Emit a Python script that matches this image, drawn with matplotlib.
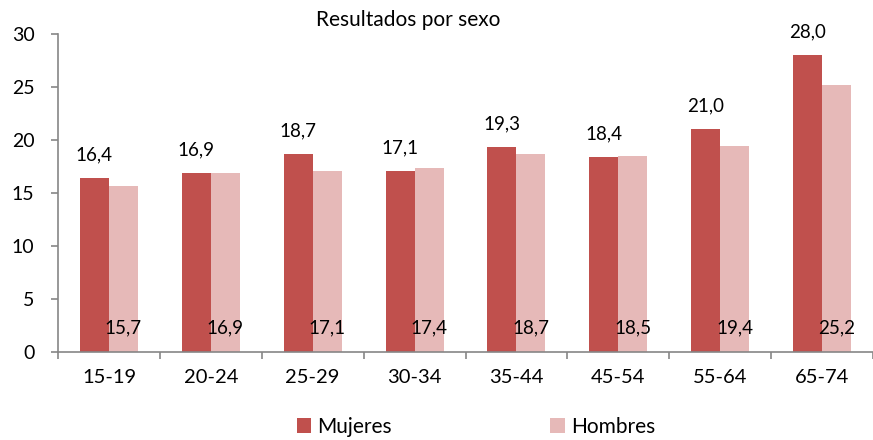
import matplotlib.pyplot as plt
import numpy as np

plt.rcParams['font.family'] = ['Lato', 'DejaVu Sans']

grupos = ['15-19', '20-24', '25-29', '30-34', '35-44', '45-54', '55-64', '65-74']
mujeres = [16.4, 16.9, 18.7, 17.1, 19.3, 18.4, 21.0, 28.0]
hombres = [15.7, 16.9, 17.1, 17.4, 18.7, 18.5, 19.4, 25.2]

color_m = '#C0504D'
color_h = '#E6B9B8'
gris = '#868686'

fig = plt.figure(figsize=(8.73, 4.4), dpi=100)
ax = fig.add_axes([58 / 873, 1 - 352 / 440, 815 / 873, 318 / 440])

x = np.arange(len(grupos))
ancho = 0.285
ax.bar(x - ancho / 2, mujeres, ancho, color=color_m, label='Mujeres')
ax.bar(x + ancho / 2, hombres, ancho, color=color_h, label='Hombres')

# etiquetas
for xi, v in zip(x, mujeres):
    ax.text(xi - ancho / 2, v + 2.2, f'{v:.1f}'.replace('.', ','),
            ha='center', va='center', fontsize=13.5)
for xi, v in zip(x, hombres):
    ax.text(xi + ancho / 2, 2.25, f'{v:.1f}'.replace('.', ','),
            ha='center', va='center', fontsize=13.5)

ax.set_xlim(-0.5, 7.42)
ax.set_ylim(0, 30)
ax.set_yticks(range(0, 31, 5))
ax.set_xticks(x)
ax.set_xticklabels(grupos)
ax.set_xticks(np.arange(-0.5, 8, 1), minor=True)

for s in ['top', 'right']:
    ax.spines[s].set_visible(False)
for s in ['left', 'bottom']:
    ax.spines[s].set_color(gris)
    ax.spines[s].set_linewidth(1.2)

ax.tick_params(axis='y', colors=gris, labelcolor='black', labelsize=14,
               length=5, width=1.2, pad=12)
ax.tick_params(axis='x', which='major', length=0, labelsize=14.5, pad=12)
ax.tick_params(axis='x', which='minor', colors=gris, length=5, width=1.2,
               direction='out')

fig.text(408 / 873, 1 - 20 / 440, 'Resultados por sexo', ha='center',
         va='center', fontsize=15)

fig.legend(loc='center', bbox_to_anchor=(476 / 873, 1 - 427 / 440), ncol=2,
           frameon=False, fontsize=15, handlelength=0.7, handleheight=0.7,
           handletextpad=0.3, columnspacing=7.6)

fig.savefig('out.png', dpi=100)
